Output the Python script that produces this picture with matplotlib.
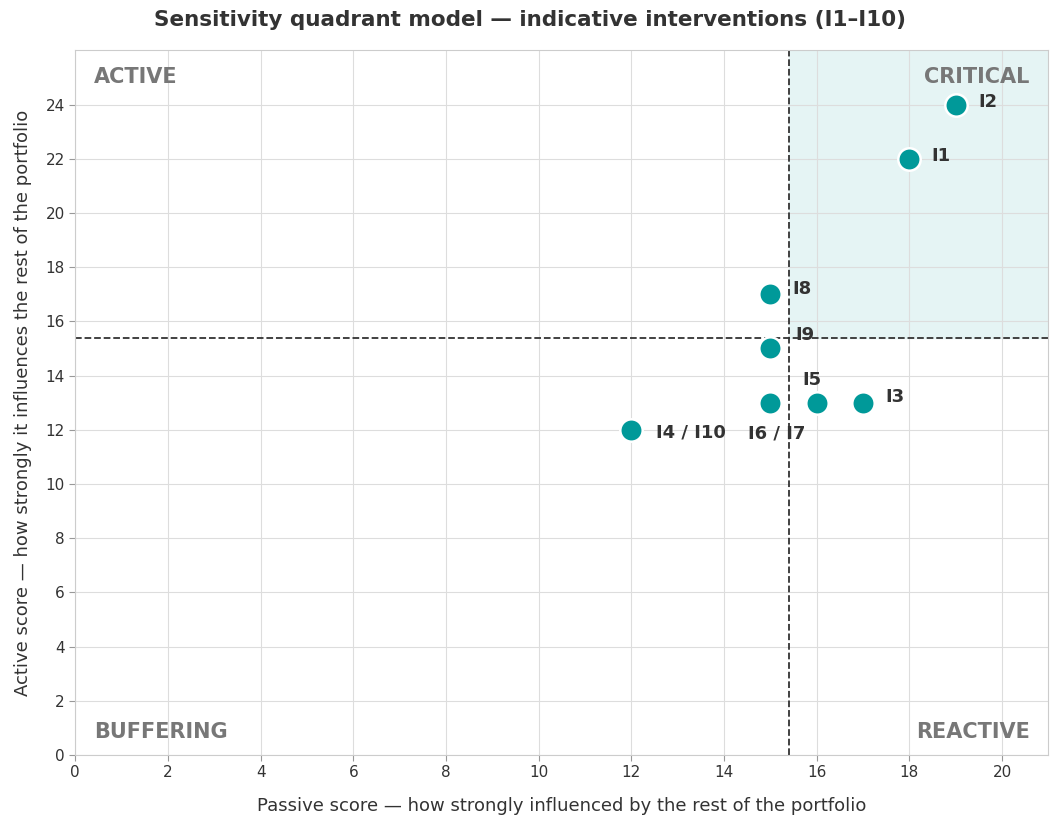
import matplotlib
matplotlib.use("Agg")
import matplotlib.pyplot as plt

labels = ["I1", "I2", "I3", "I4 / I10", "I5", "I6 / I7", "I8", "I9"]
passive = [18, 19, 17, 12, 16, 15, 15, 15]
active = [22, 24, 13, 12, 13, 13, 17, 15]
x_threshold = 15.4
y_threshold = 15.4

# label offsets in points (style)
offsets = {"I1": (16, 2), "I2": (16, 2), "I3": (16, 4), "I4 / I10": (18, -2),
           "I5": (-10, 16), "I6 / I7": (-16, -22), "I8": (16, 4), "I9": (18, 10)}

fig = plt.figure(figsize=(10.59, 8.26), dpi=100)
ax = fig.add_axes([0.071, 0.086, 0.919, 0.853])
ax.set_xlim(0, 21)
ax.set_ylim(0, 26)
ax.set_xticks(range(0, 21, 2))
ax.set_yticks(range(0, 25, 2))
ax.grid(True, color="#dddddd", linewidth=0.8)
ax.set_axisbelow(True)
for s in ax.spines.values():
    s.set_color("#cccccc")
ax.tick_params(colors="#333333", labelsize=11, length=4, color="#999999")

ax.axvspan(x_threshold, 21, ymin=y_threshold / 26, ymax=1, color="#e5f4f4", zorder=0)
ax.axvline(x_threshold, color="#333333", linestyle="--", linewidth=1.3)
ax.axhline(y_threshold, color="#333333", linestyle="--", linewidth=1.3)

ax.scatter(passive, active, s=260, color="#009999", edgecolor="white", linewidth=1.8, zorder=3)
for lab, x, y in zip(labels, passive, active):
    ax.annotate(lab, (x, y), xytext=offsets[lab], textcoords="offset points",
                fontsize=13, fontweight="bold", color="#333333", va="center", ha="left")

qc = "#777777"
ax.text(0.4, 25, "ACTIVE", fontsize=15, fontweight="bold", color=qc, va="center")
ax.text(20.6, 25, "CRITICAL", fontsize=15, fontweight="bold", color=qc, va="center", ha="right")
ax.text(0.4, 0.85, "BUFFERING", fontsize=15, fontweight="bold", color=qc, va="center")
ax.text(20.6, 0.85, "REACTIVE", fontsize=15, fontweight="bold", color=qc, va="center", ha="right")

ax.set_xlabel("Passive score — how strongly influenced by the rest of the portfolio",
              fontsize=13, color="#333333", labelpad=12)
ax.set_ylabel("Active score — how strongly it influences the rest of the portfolio",
              fontsize=13, color="#333333", labelpad=10)
fig.suptitle("Sensitivity quadrant model — indicative interventions (I1–I10)",
             fontsize=15.5, fontweight="bold", color="#333333", y=0.988)
fig.savefig("out.png", dpi=100)
